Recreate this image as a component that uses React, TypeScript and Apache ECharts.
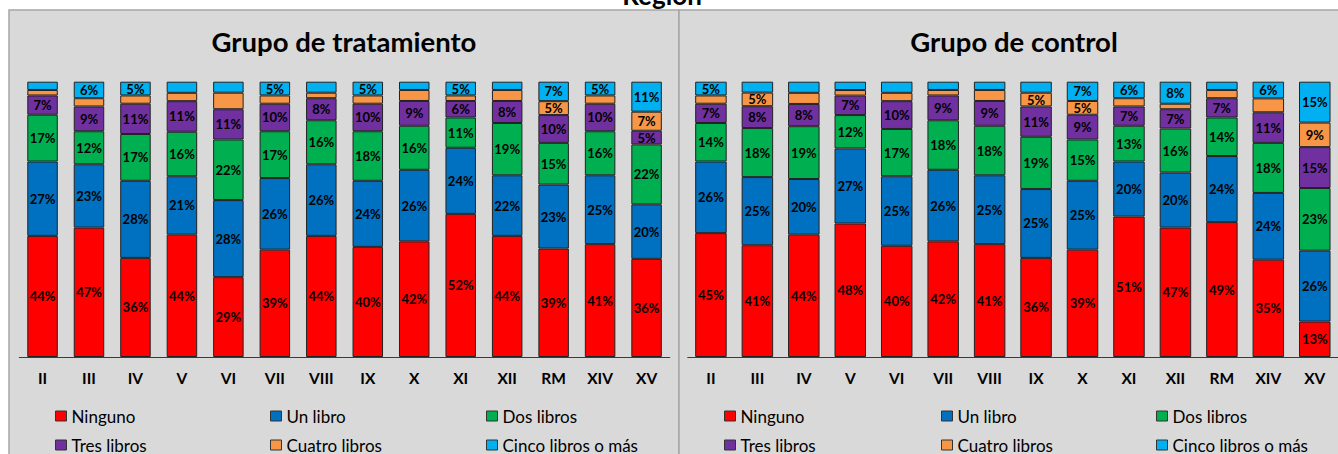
import React, { useEffect, useRef } from "react";
import * as echarts from "echarts";

const categories = ["II", "III", "IV", "V", "VI", "VII", "VIII", "IX", "X", "XI", "XII", "RM", "XIV", "XV"];
const seriesNames = ["Ninguno", "Un libro", "Dos libros", "Tres libros", "Cuatro libros", "Cinco libros o más"];

// Grupo de tratamiento (%)
const tratNinguno = [44, 47, 36, 44, 29, 39, 44, 40, 42, 52, 44, 39, 41, 36];
const tratUnLibro = [27, 23, 28, 21, 28, 26, 26, 24, 26, 24, 22, 23, 25, 20];
const tratDosLibros = [17, 12, 17, 16, 22, 17, 16, 18, 16, 11, 19, 15, 16, 22];
const tratTresLibros = [7, 9, 11, 11, 11, 10, 8, 10, 9, 6, 8, 10, 10, 5];
const tratCuatroLibros = [2, 3, 3, 3, 6, 3, 2, 3, 4, 2, 4, 5, 3, 7];
const tratCincoLibros = [3, 6, 5, 4, 4, 5, 4, 5, 3, 5, 3, 7, 5, 11];

// Grupo de control (%)
const ctrlNinguno = [45, 41, 44, 48, 40, 42, 41, 36, 39, 51, 47, 49, 35, 13];
const ctrlUnLibro = [26, 25, 20, 27, 25, 26, 25, 25, 25, 20, 20, 24, 24, 26];
const ctrlDosLibros = [14, 18, 19, 12, 17, 18, 18, 19, 15, 13, 16, 14, 18, 23];
const ctrlTresLibros = [7, 8, 8, 7, 10, 9, 9, 11, 9, 7, 7, 7, 11, 15];
const ctrlCuatroLibros = [3, 5, 4, 2, 3, 2, 4, 5, 5, 3, 2, 3, 5, 9];
const ctrlCincoLibros = [5, 4, 4, 3, 4, 3, 3, 4, 7, 6, 8, 3, 6, 15];

// segments whose value label is not shown in the original
const tratUnlabeled = [["Cuatro libros", "VI"]];
const ctrlUnlabeled = [["Cuatro libros", "XIV"]];

const tratamiento = [tratNinguno, tratUnLibro, tratDosLibros, tratTresLibros, tratCuatroLibros, tratCincoLibros];
const control = [ctrlNinguno, ctrlUnLibro, ctrlDosLibros, ctrlTresLibros, ctrlCuatroLibros, ctrlCincoLibros];

const COLORS = ["#FF0000", "#0070C0", "#00B050", "#7030A0", "#F79646", "#00B0F0"];
const FONT = "Lato, 'Open Sans', sans-serif";

function buildSeries(group: number[][], unlabeled: string[][], idx: number, barWidth: number) {
  const totals = categories.map((_, i) => group.reduce((s, arr) => s + arr[i], 0));
  return seriesNames.map((name, k) => ({
    type: "bar",
    name,
    stack: "g" + idx,
    xAxisIndex: idx,
    yAxisIndex: idx,
    barWidth,
    emphasis: { disabled: true },
    itemStyle: { color: COLORS[k], borderColor: "#222222", borderWidth: 1 },
    label: {
      show: true,
      position: "inside",
      fontFamily: FONT,
      fontWeight: "bold",
      fontSize: 13,
      color: "#000000",
      formatter: (p: any) => group[k][p.dataIndex] + "%",
    },
    data: group[k].map((v, i) => ({
      value: (v / totals[i]) * 100,
      label: {
        show: v >= 5 && !unlabeled.some((h) => h[0] === name && h[1] === categories[i]),
      },
    })),
  }));
}

function legendColumn(names: string[], left: number) {
  return {
    orient: "vertical",
    left,
    top: 407.5,
    padding: 0,
    itemGap: 12,
    itemWidth: 11,
    itemHeight: 10,
    icon: "rect",
    data: names,
    itemStyle: { borderColor: "#333333", borderWidth: 1 },
    textStyle: { fontFamily: FONT, fontSize: 17, color: "#000000" },
  };
}

export default function App() {
  const ref = useRef<HTMLDivElement>(null);

  useEffect(() => {
    if (!ref.current) return;
    const chart = echarts.init(ref.current, undefined, { renderer: "svg" });
    const xAxisCommon = {
      type: "category",
      data: categories,
      axisLine: { lineStyle: { color: "#3a3a3a", width: 1 } },
      axisTick: { show: false },
      axisLabel: { fontFamily: FONT, fontWeight: "bold", fontSize: 15.5, color: "#000000", margin: 13 },
      splitLine: { show: false },
    };
    const yAxisCommon = { type: "value", min: 0, max: 100, show: false };
    chart.setOption({
      animation: false,
      backgroundColor: "#ffffff",
      graphic: [
        {
          type: "rect",
          z: -10,
          shape: { x: 9, y: 10, width: 670, height: 460 },
          style: { fill: "#D9D9D9", stroke: "#A6A6A6", lineWidth: 1.5 },
        },
        {
          type: "rect",
          z: -10,
          shape: { x: 679, y: 10, width: 670, height: 460 },
          style: { fill: "#D9D9D9", stroke: "#A6A6A6", lineWidth: 1.5 },
        },
        {
          type: "text",
          z: 10,
          x: 662,
          y: 8,
          style: {
            text: "Región",
            fill: "#000000",
            font: "bold 26px " + FONT,
            textAlign: "center",
            textVerticalAlign: "bottom",
          },
        },
        {
          type: "text",
          z: 10,
          x: 344,
          y: 41,
          style: {
            text: "Grupo de tratamiento",
            fill: "#000000",
            font: "bold 27.5px " + FONT,
            textAlign: "center",
            textVerticalAlign: "middle",
          },
        },
        {
          type: "text",
          z: 10,
          x: 1014,
          y: 41,
          style: {
            text: "Grupo de control",
            fill: "#000000",
            font: "bold 27.5px " + FONT,
            textAlign: "center",
            textVerticalAlign: "middle",
          },
        },
      ],
      grid: [
        { left: 19.3, top: 81.7, width: 650.5, height: 275.3 },
        { left: 687.7, top: 81.7, width: 652, height: 275.3 },
      ],
      xAxis: [
        { ...xAxisCommon, gridIndex: 0 },
        { ...xAxisCommon, gridIndex: 1 },
      ],
      yAxis: [
        { ...yAxisCommon, gridIndex: 0 },
        { ...yAxisCommon, gridIndex: 1 },
      ],
      legend: [
        legendColumn([seriesNames[0], seriesNames[3]], 55),
        legendColumn([seriesNames[1], seriesNames[4]], 270),
        legendColumn([seriesNames[2], seriesNames[5]], 486),
        legendColumn([seriesNames[0], seriesNames[3]], 724),
        legendColumn([seriesNames[1], seriesNames[4]], 941),
        legendColumn([seriesNames[2], seriesNames[5]], 1156),
      ],
      series: [
        ...buildSeries(tratamiento, tratUnlabeled, 0, 30.5),
        ...buildSeries(control, ctrlUnlabeled, 1, 31.5),
      ],
    });
    return () => chart.dispose();
  }, []);

  return (
    <div
      ref={ref}
      style={{ position: "absolute", left: 0, top: 0, width: 1338, height: 454 }}
    />
  );
}
